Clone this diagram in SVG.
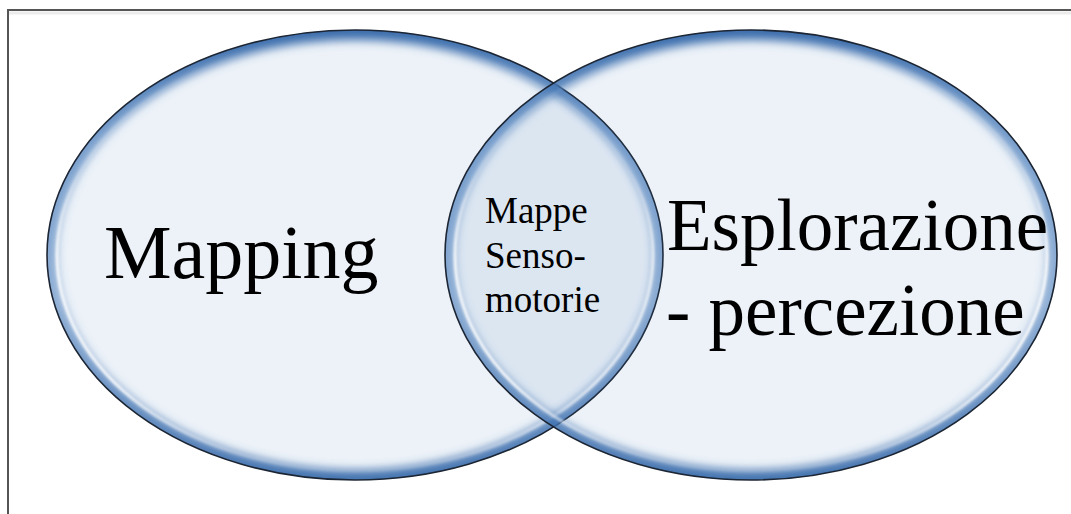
<svg xmlns="http://www.w3.org/2000/svg" width="1071" height="514" viewBox="0 0 1071 514">
  <style>
    .frame { fill: none; stroke: #555555; stroke-width: 2; }
    .frame-shade { fill: none; stroke: #ececec; stroke-width: 3; }
    .body { fill: #4F81BD; fill-opacity: 0.1; }
    .rim { fill: none; stroke: url(#rimShade); stroke-width: 20; filter: url(#soft); }
    .gloss { fill: none; stroke: url(#glossShade); stroke-width: 3; filter: url(#softer); }
    .outline { fill: none; stroke: #1c2533; stroke-width: 1.6; }
    .big { font-family: "Liberation Serif", "Times New Roman", serif; fill: #000; }
    .small { font-family: "Liberation Serif", "Times New Roman", serif; font-size: 37px; fill: #000; }
  </style>
  <defs>
    <linearGradient id="rimShade" x1="0" y1="0" x2="0" y2="1">
      <stop offset="0" stop-color="#3a6cab" stop-opacity="1"/>
      <stop offset="0.25" stop-color="#4F81BD" stop-opacity="0.75"/>
      <stop offset="0.6" stop-color="#4F81BD" stop-opacity="0.6"/>
      <stop offset="1" stop-color="#3a6cab" stop-opacity="0.95"/>
    </linearGradient>
    <linearGradient id="glossShade" x1="0" y1="0" x2="0" y2="1">
      <stop offset="0" stop-color="#ffffff" stop-opacity="0"/>
      <stop offset="0.3" stop-color="#ffffff" stop-opacity="0.2"/>
      <stop offset="0.5" stop-color="#ffffff" stop-opacity="0.85"/>
      <stop offset="0.8" stop-color="#ffffff" stop-opacity="0.85"/>
      <stop offset="1" stop-color="#ffffff" stop-opacity="0.1"/>
    </linearGradient>
    <filter id="soft" x="-10%" y="-10%" width="120%" height="120%">
      <feGaussianBlur stdDeviation="5"/>
    </filter>
    <filter id="softer" x="-10%" y="-10%" width="120%" height="120%">
      <feGaussianBlur stdDeviation="1.2"/>
    </filter>
    <clipPath id="clipLeft"><ellipse cx="355" cy="255" rx="308" ry="225"/></clipPath>
    <clipPath id="clipRight"><ellipse cx="751" cy="255" rx="306" ry="225"/></clipPath>
  </defs>

  <rect width="1071" height="514" fill="#ffffff"/>
  <!-- page frame -->
  <line class="frame-shade" x1="9" y1="13" x2="1071" y2="13"/>
  <rect class="frame" x="8" y="10" width="1090" height="530"/>

  <g id="node-mapping">
    <ellipse class="body" cx="355" cy="255" rx="308" ry="225"/>
    <g clip-path="url(#clipLeft)">
      <ellipse class="rim" cx="355" cy="255" rx="308" ry="225"/>
    </g>
    <ellipse class="gloss" cx="355" cy="255" rx="298" ry="216"/>
    <ellipse class="outline" cx="355" cy="255" rx="308" ry="225"/>
    <text class="big" x="104" y="278" font-size="76">Mapping</text>
  </g>

  <g id="node-esplorazione">
    <ellipse class="body" cx="751" cy="255" rx="306" ry="225"/>
    <g clip-path="url(#clipRight)">
      <ellipse class="rim" cx="751" cy="255" rx="306" ry="225"/>
    </g>
    <ellipse class="gloss" cx="751" cy="255" rx="296" ry="216"/>
    <ellipse class="outline" cx="751" cy="255" rx="306" ry="225"/>
    <text class="big" x="667" y="250" font-size="73">Esplorazione</text>
    <text class="big" x="666" y="335" font-size="73">- percezione</text>
  </g>

  <g id="node-mappe-sensomotorie">
    <text class="small" x="485" y="223">Mappe</text>
    <text class="small" x="485" y="268">Senso-</text>
    <text class="small" x="485" y="312">motorie</text>
  </g>

  <g id="connectors"/>
</svg>
